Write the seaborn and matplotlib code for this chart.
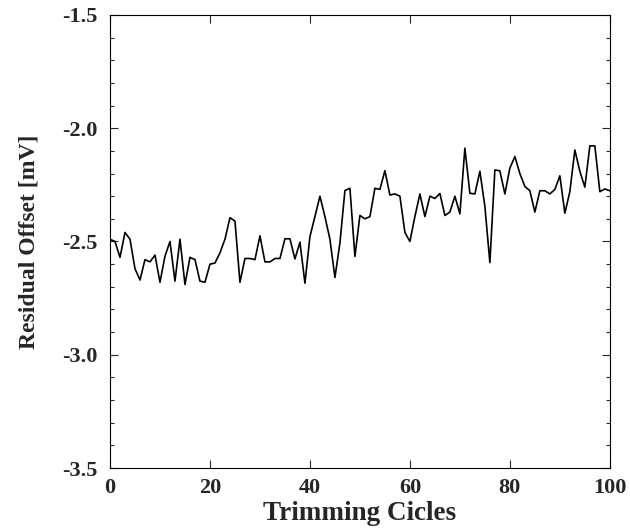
import numpy as np
import pandas as pd
import matplotlib
matplotlib.use('Agg')
import matplotlib.pyplot as plt
from matplotlib.ticker import MultipleLocator
import seaborn as sns

# Residual offset per trimming cycle
cycles = list(range(0, 101))
offset_mv = [
    -2.49, -2.50, -2.57, -2.46, -2.49, -2.62, -2.67, -2.58, -2.59, -2.56,
    -2.68, -2.565, -2.50, -2.675, -2.49, -2.69, -2.57, -2.58, -2.675, -2.68,
    -2.60, -2.595, -2.55, -2.49, -2.395, -2.41, -2.68, -2.575, -2.575, -2.58,
    -2.475, -2.59, -2.59, -2.575, -2.575, -2.488, -2.488, -2.577, -2.503, -2.684,
    -2.478, -2.39, -2.30, -2.39, -2.49, -2.659, -2.507, -2.275, -2.265, -2.566,
    -2.385, -2.40, -2.39, -2.265, -2.27, -2.187, -2.295, -2.29, -2.30, -2.46,
    -2.50, -2.39, -2.29, -2.39, -2.30, -2.31, -2.288, -2.385, -2.37, -2.30,
    -2.378, -2.088, -2.287, -2.29, -2.19, -2.345, -2.593, -2.184, -2.188, -2.29,
    -2.176, -2.125, -2.20, -2.257, -2.276, -2.37, -2.276, -2.276, -2.29, -2.27,
    -2.21, -2.375, -2.28, -2.096, -2.19, -2.26, -2.078, -2.078, -2.28, -2.268,
    -2.276,
]
x_ticks = [0, 20, 40, 60, 80, 100]
y_ticks = [-3.5, -3.0, -2.5, -2.0, -1.5]

df = pd.DataFrame({"cycle": cycles, "offset": offset_mv})

sns.set_style("ticks")
plt.rcParams['font.family'] = ['Liberation Serif', 'DejaVu Serif']
plt.rcParams['font.weight'] = 'bold'

fig = plt.figure(figsize=(6.3, 5.31), dpi=100)
ax = fig.add_axes([0.1746, 0.1186, 0.968 - 0.1746, 0.9718 - 0.1186])

sns.lineplot(data=df, x="cycle", y="offset", color="black", linewidth=1.2, ax=ax)

ax.set_xlim(0, 100)
ax.set_ylim(-3.5, -1.5)
ax.set_xticks(x_ticks)
ax.set_yticks(y_ticks)
ax.set_yticklabels([f"{v:.1f}" for v in y_ticks])
ax.yaxis.set_minor_locator(MultipleLocator(0.1))

ax.tick_params(which='both', direction='in', top=True, right=True, width=0.8)
ax.tick_params(which='major', length=6)
ax.tick_params(which='minor', length=3)
ax.tick_params(axis='y', labelsize=16, pad=9)
ax.tick_params(axis='x', labelsize=16, pad=7)
for lab in ax.get_xticklabels() + ax.get_yticklabels():
    lab.set_fontweight('bold')

for sp in ax.spines.values():
    sp.set_linewidth(0.8)
    sp.set_color('black')

ax.set_xlabel("Trimming Cicles", fontsize=19.5, fontweight='bold', labelpad=2)
ax.set_ylabel("Residual Offset [mV]", fontsize=17, fontweight='bold', labelpad=16)

fig.savefig("out.png", dpi=100)
